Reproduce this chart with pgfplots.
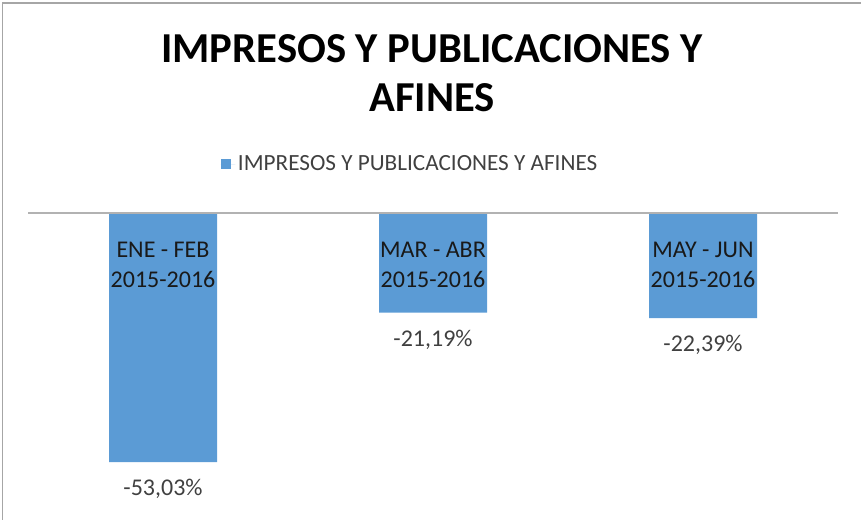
\documentclass[border=0pt]{standalone}
\usepackage{pgfplots}
\pgfplotsset{compat=1.18}
\usepackage{fontspec}
\setmainfont{Carlito}
\definecolor{barblue}{HTML}{5B9BD5}
\definecolor{txt}{HTML}{404040}
\begin{document}
\begin{tikzpicture}[x=0.75pt,y=0.75pt]
\useasboundingbox (0,0) rectangle (861,519);
\clip (0,0) rectangle (861,519);
\draw[color=black!35, line width=1.2pt] (2.5,-20) -- (2.5,516) -- (900,516);
\node[font=\bfseries\fontsize{32}{38}\selectfont, anchor=base] at (432,456) {IMPRESOS Y PUBLICACIONES Y};
\node[font=\bfseries\fontsize{32}{38}\selectfont, anchor=base] at (432,407) {AFINES};
\begin{axis}[
  at={(21pt,229.5pt)}, anchor=north west,
  scale only axis, width=607.5pt, height=225.4pt,
  xmin=-0.5, xmax=2.5, ymin=-64, ymax=0,
  axis lines=none,
  ybar, bar width=81pt,
  point meta=explicit symbolic,
  nodes near coords,
  every node near coord/.append style={anchor=north, yshift=-9.5pt, font=\fontsize{18}{22}\selectfont, text=txt},
  legend style={at={(0.472,1.163)}, anchor=center, draw=none, fill=none, font=\fontsize{17.4}{20}\selectfont, text=txt},
  legend image code/.code={\fill[barblue] (0pt,-4pt) rectangle (8pt,4pt); \path (0pt,0pt) -- (11pt,0pt);},
]
\addplot[fill=barblue, draw=none] table[meta=label] {
x y label
0 -53.03 {-53,03\%}
1 -21.19 {-21,19\%}
2 -22.39 {-22,39\%}
};
\addlegendentry{IMPRESOS Y PUBLICACIONES Y AFINES}
\draw[color=black!30, line width=1pt] (axis cs:-0.5,0) -- (axis cs:2.5,0);
\node[anchor=north, align=center, font=\fontsize{18}{22.5}\selectfont, text=black!90, yshift=-18pt] at (axis cs:0,0) {ENE - FEB\\2015-2016};
\node[anchor=north, align=center, font=\fontsize{18}{22.5}\selectfont, text=black!90, yshift=-18pt] at (axis cs:1,0) {MAR - ABR\\2015-2016};
\node[anchor=north, align=center, font=\fontsize{18}{22.5}\selectfont, text=black!90, yshift=-18pt] at (axis cs:2,0) {MAY - JUN\\2015-2016};
\end{axis}
\end{tikzpicture}
\end{document}
